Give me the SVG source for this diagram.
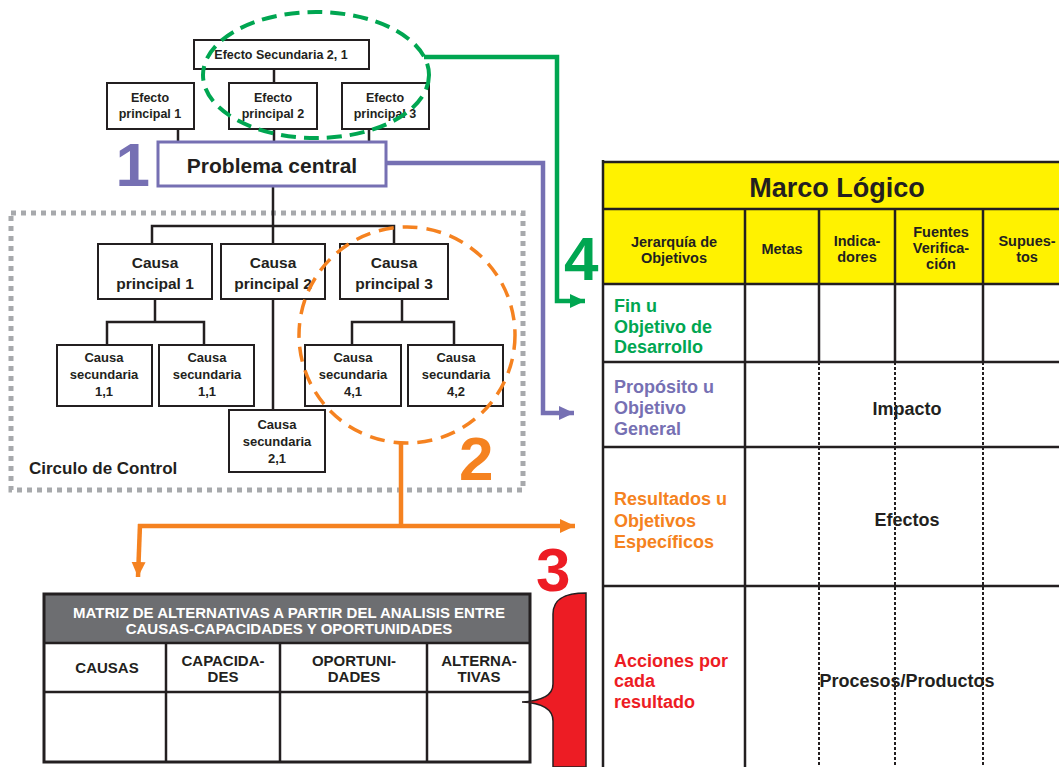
<svg xmlns="http://www.w3.org/2000/svg" width="1059" height="767" viewBox="0 0 1059 767">
  <style>
    text { font-family: "Liberation Sans", Arial, sans-serif; font-weight: bold; }
    .box { fill: #fff; stroke: #231f20; stroke-width: 2; }
    .lbl { fill: #231f20; text-anchor: middle; }
    .ef { font-size: 12.5px; }
    .cp { font-size: 15.5px; }
    .cs { font-size: 13px; }
    .tree { fill: none; stroke: #231f20; stroke-width: 2.5; }
    .big { font-size: 62px; }
    .grid { stroke: #231f20; stroke-width: 2.5; fill: none; }
    .dots { stroke: #231f20; stroke-width: 2; stroke-dasharray: 3 2; fill: none; }
    .hdr { font-size: 14.5px; fill: #231f20; text-anchor: middle; }
    .row { font-size: 18px; }
    .mx { font-size: 15px; fill: #fff; text-anchor: middle; }
    .mxh { font-size: 15px; fill: #231f20; text-anchor: middle; }
  </style>
  <defs>
    <marker id="arrGreen" markerUnits="userSpaceOnUse" markerWidth="18" markerHeight="18" refX="15" refY="9" orient="auto">
      <path d="M0,2 L15,9 L0,16 Z" fill="#00a651"/>
    </marker>
    <marker id="arrPurple" markerUnits="userSpaceOnUse" markerWidth="18" markerHeight="18" refX="15" refY="9" orient="auto">
      <path d="M0,2 L15,9 L0,16 Z" fill="#7670b3"/>
    </marker>
    <marker id="arrOrange" markerUnits="userSpaceOnUse" markerWidth="18" markerHeight="18" refX="15" refY="9" orient="auto">
      <path d="M0,2 L15,9 L0,16 Z" fill="#f58220"/>
    </marker>
  </defs>

  <rect width="1059" height="767" fill="#fff"/>

  <!-- Circulo de Control frame -->
  <g id="circulo-control">
    <rect x="11" y="213" width="512" height="277" fill="none" stroke="#a7a9ac" stroke-width="5" stroke-dasharray="5 5"/>
    <text x="29" y="474" font-size="17" fill="#231f20">Circulo de Control</text>
  </g>

  <!-- tree connectors -->
  <g id="tree-lines" class="tree">
    <line x1="274" y1="69" x2="274" y2="83"/>
    <line x1="178" y1="129" x2="178" y2="142"/>
    <line x1="274" y1="129" x2="274" y2="142"/>
    <line x1="369" y1="129" x2="369" y2="142"/>
    <line x1="273" y1="186" x2="273" y2="244"/>
    <polyline points="152,244 152,226 394,226 394,244"/>
    <line x1="273" y1="299" x2="273" y2="410"/>
    <line x1="155" y1="299" x2="155" y2="322"/>
    <polyline points="107,345 107,322 204,322 204,345"/>
    <line x1="402" y1="299" x2="402" y2="322"/>
    <polyline points="352,345 352,322 454,322 454,345"/>
  </g>

  <!-- effects -->
  <g id="efecto-secundaria">
    <rect class="box" x="194" y="40" width="175" height="29"/>
    <text class="lbl ef" x="281" y="59">Efecto Secundaria 2, 1</text>
  </g>
  <g id="efecto-principal-1">
    <rect class="box" x="107" y="83" width="87" height="46"/>
    <text class="lbl ef" x="150" y="102">Efecto</text>
    <text class="lbl ef" x="150" y="118">principal 1</text>
  </g>
  <g id="efecto-principal-2">
    <rect class="box" x="229" y="83" width="88" height="46"/>
    <text class="lbl ef" x="273" y="102">Efecto</text>
    <text class="lbl ef" x="273" y="118">principal 2</text>
  </g>
  <g id="efecto-principal-3">
    <rect class="box" x="342" y="83" width="87" height="46"/>
    <text class="lbl ef" x="385" y="102">Efecto</text>
    <text class="lbl ef" x="385" y="118">principal 3</text>
  </g>

  <!-- central problem -->
  <g id="problema-central">
    <rect x="158" y="142" width="228" height="44" fill="#fff" stroke="#7670b3" stroke-width="3"/>
    <text class="lbl" x="272" y="173" font-size="21">Problema central</text>
    <text x="150" y="186" class="big" fill="#7670b3" text-anchor="end">1</text>
  </g>

  <!-- causes -->
  <g id="causa-principal-1">
    <rect class="box" x="98" y="244" width="114" height="55"/>
    <text class="lbl cp" x="155" y="268">Causa</text>
    <text class="lbl cp" x="155" y="289">principal 1</text>
  </g>
  <g id="causa-principal-2">
    <rect class="box" x="221" y="244" width="104" height="55"/>
    <text class="lbl cp" x="273" y="268">Causa</text>
    <text class="lbl cp" x="273" y="289">principal 2</text>
  </g>
  <g id="causa-principal-3">
    <rect class="box" x="340" y="244" width="108" height="55"/>
    <text class="lbl cp" x="394" y="268">Causa</text>
    <text class="lbl cp" x="394" y="289">principal 3</text>
  </g>
  <g id="causa-secundaria-1-1a">
    <rect class="box" x="57" y="345" width="95" height="61"/>
    <text class="lbl cs" x="104" y="362">Causa</text>
    <text class="lbl cs" x="104" y="379">secundaria</text>
    <text class="lbl cs" x="104" y="396">1,1</text>
  </g>
  <g id="causa-secundaria-1-1b">
    <rect class="box" x="159" y="345" width="95" height="61"/>
    <text class="lbl cs" x="207" y="362">Causa</text>
    <text class="lbl cs" x="207" y="379">secundaria</text>
    <text class="lbl cs" x="207" y="396">1,1</text>
  </g>
  <g id="causa-secundaria-2-1">
    <rect class="box" x="229" y="410" width="96" height="62"/>
    <text class="lbl cs" x="277" y="429">Causa</text>
    <text class="lbl cs" x="277" y="446">secundaria</text>
    <text class="lbl cs" x="277" y="463">2,1</text>
  </g>
  <g id="causa-secundaria-4-1">
    <rect class="box" x="305" y="345" width="96" height="61"/>
    <text class="lbl cs" x="353" y="362">Causa</text>
    <text class="lbl cs" x="353" y="379">secundaria</text>
    <text class="lbl cs" x="353" y="396">4,1</text>
  </g>
  <g id="causa-secundaria-4-2">
    <rect class="box" x="408" y="345" width="95" height="61"/>
    <text class="lbl cs" x="456" y="362">Causa</text>
    <text class="lbl cs" x="456" y="379">secundaria</text>
    <text class="lbl cs" x="456" y="396">4,2</text>
  </g>

  <!-- highlight ellipses -->
  <g id="grupo-efectos">
    <ellipse cx="316" cy="75" rx="113" ry="63" fill="none" stroke="#00a651" stroke-width="4" stroke-dasharray="15 8"/>
  </g>
  <g id="grupo-causas">
    <ellipse cx="407" cy="335" rx="108" ry="108" fill="none" stroke="#f58220" stroke-width="3.5" stroke-dasharray="15 9"/>
    <text x="459" y="480" class="big" fill="#f58220">2</text>
  </g>

  <!-- connectors between the analysis and the tables -->
  <g id="connectors" fill="none" stroke-width="4.5">
    <polyline points="424,57 557,57 557,301 585,301" stroke="#00a651" marker-end="url(#arrGreen)"/>
    <polyline points="386,163 543,163 543,413 574,413" stroke="#7670b3" marker-end="url(#arrPurple)"/>
    <line x1="401" y1="443" x2="401" y2="526" stroke="#f58220"/>
    <polyline points="138,526 575,526" stroke="#f58220" marker-end="url(#arrOrange)"/>
    <polyline points="140,524 138,577" stroke="#f58220" marker-end="url(#arrOrange)"/>
  </g>
  <text x="564" y="280" class="big" fill="#00a651">4</text>
  <text x="536" y="591" class="big" fill="#ed1c24">3</text>

  <!-- alternatives matrix -->
  <g id="matriz-alternativas">
    <rect x="44" y="594" width="486" height="49" fill="#6d6e71"/>
    <text class="mx" x="289" y="618">MATRIZ DE ALTERNATIVAS A PARTIR DEL ANALISIS ENTRE</text>
    <text class="mx" x="289" y="634">CAUSAS-CAPACIDADES Y OPORTUNIDADES</text>
    <rect x="44" y="594" width="486" height="168" fill="none" stroke="#231f20" stroke-width="3"/>
    <line class="grid" x1="44" y1="643" x2="530" y2="643" stroke-width="3"/>
    <line class="grid" x1="44" y1="692" x2="530" y2="692" stroke-width="3"/>
    <line class="grid" x1="166" y1="643" x2="166" y2="762" stroke-width="3"/>
    <line class="grid" x1="280" y1="643" x2="280" y2="762" stroke-width="3"/>
    <line class="grid" x1="427" y1="643" x2="427" y2="762" stroke-width="3"/>
    <text class="mxh" x="107" y="673">CAUSAS</text>
    <text class="mxh" x="223" y="666">CAPACIDA-</text>
    <text class="mxh" x="223" y="682">DES</text>
    <text class="mxh" x="354" y="666">OPORTUNI-</text>
    <text class="mxh" x="354" y="682">DADES</text>
    <text class="mxh" x="479" y="666">ALTERNA-</text>
    <text class="mxh" x="479" y="682">TIVAS</text>
  </g>

  <!-- brace -->
  <g id="llave">
    <path d="M586,593 C568,593 553,597 553,614 L553,684 C553,696 542,701 522,702 C542,703 553,709 553,721 L553,767 L586,767 Z" fill="#ed1c24" stroke="#231f20" stroke-width="1.5"/>
  </g>

  <!-- logical framework table -->
  <g id="marco-logico">
    <rect x="603" y="162" width="470" height="122" fill="#fff200"/>
    <line class="dots" x1="819" y1="362" x2="819" y2="767"/>
    <line class="dots" x1="895" y1="362" x2="895" y2="767"/>
    <line class="dots" x1="983" y1="362" x2="983" y2="767"/>
    <line class="grid" x1="603" y1="162" x2="1059" y2="162" stroke-width="3.5"/>
    <line class="grid" x1="603" y1="160" x2="603" y2="767" stroke-width="4"/>
    <line class="grid" x1="603" y1="209" x2="1059" y2="209"/>
    <line class="grid" x1="603" y1="284" x2="1059" y2="284"/>
    <line class="grid" x1="603" y1="362" x2="1059" y2="362"/>
    <line class="grid" x1="603" y1="447" x2="1059" y2="447"/>
    <line class="grid" x1="603" y1="586" x2="1059" y2="586"/>
    <line class="grid" x1="745" y1="209" x2="745" y2="767"/>
    <line class="grid" x1="819" y1="209" x2="819" y2="362"/>
    <line class="grid" x1="895" y1="209" x2="895" y2="362"/>
    <line class="grid" x1="983" y1="209" x2="983" y2="362"/>

    <text x="837" y="197" font-size="27" fill="#231f20" text-anchor="middle">Marco Lógico</text>
    <text class="hdr" x="674" y="247">Jerarquía de</text>
    <text class="hdr" x="674" y="263">Objetivos</text>
    <text class="hdr" x="782" y="254">Metas</text>
    <text class="hdr" x="857" y="246">Indica-</text>
    <text class="hdr" x="857" y="262">dores</text>
    <text class="hdr" x="941" y="237">Fuentes</text>
    <text class="hdr" x="941" y="253">Verifica-</text>
    <text class="hdr" x="941" y="269">ción</text>
    <text class="hdr" x="1027" y="246">Supues-</text>
    <text class="hdr" x="1027" y="262">tos</text>

    <g class="row" fill="#00a651">
      <text x="614" y="312">Fin u</text>
      <text x="614" y="333">Objetivo de</text>
      <text x="614" y="353">Desarrollo</text>
    </g>
    <g class="row" fill="#7670b3">
      <text x="614" y="393">Propósito u</text>
      <text x="614" y="414">Objetivo</text>
      <text x="614" y="435">General</text>
    </g>
    <g class="row" fill="#f58220">
      <text x="614" y="505">Resultados u</text>
      <text x="614" y="527">Objetivos</text>
      <text x="614" y="548">Específicos</text>
    </g>
    <g class="row" fill="#ed1c24">
      <text x="614" y="667">Acciones por</text>
      <text x="614" y="687">cada</text>
      <text x="614" y="708">resultado</text>
    </g>
    <g class="row" fill="#231f20" text-anchor="middle">
      <text x="907" y="415">Impacto</text>
      <text x="907" y="526">Efectos</text>
      <text x="907" y="687">Procesos/Productos</text>
    </g>
  </g>
</svg>
